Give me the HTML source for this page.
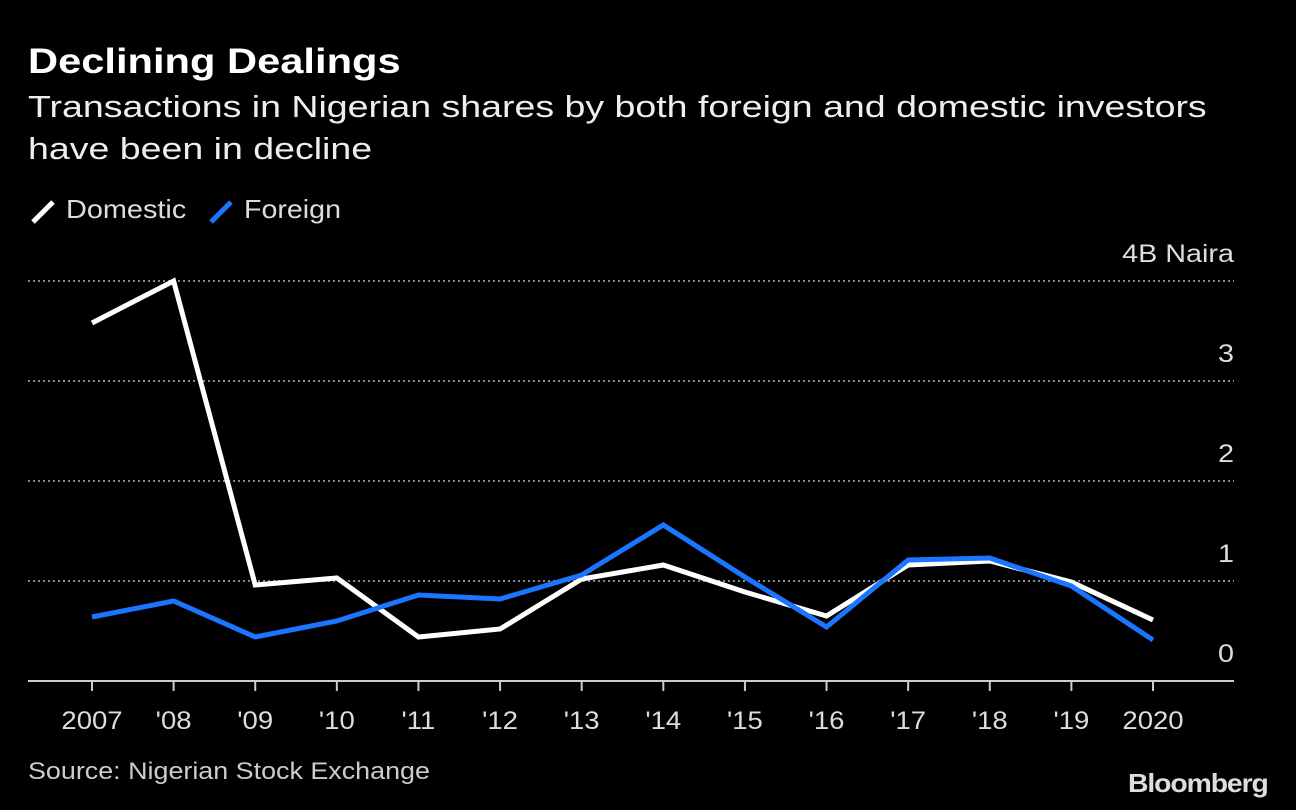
<!DOCTYPE html>
<html><head><meta charset="utf-8"><style>
html,body{margin:0;padding:0;background:#000;}
body{width:1296px;height:810px;position:relative;overflow:hidden;font-family:"Liberation Sans",sans-serif;color:#fff;}
.t{position:absolute;white-space:nowrap;transform-origin:0 0;}
</style></head><body>
<div class="t" style="left:28px;top:42px;font-size:35px;font-weight:bold;transform:scaleX(1.19);">Declining Dealings</div>
<div class="t" style="left:28px;top:86px;font-size:31px;line-height:42px;color:#eee;transform:scaleX(1.21);">Transactions in Nigerian shares by both foreign and domestic investors<br>have been in decline</div>
<div style="position:absolute;left:28px;top:192px;height:36px;font-size:26px;color:#ddd;">
 <span style="position:absolute;left:0;top:2px;"><svg width="30" height="30" style="vertical-align:middle"><line x1="5" y1="26" x2="25" y2="6" stroke="#fff" stroke-width="5"/></svg></span>
 <span class="t" style="left:38px;top:2px;transform:scaleX(1.11);">Domestic</span>
 <span style="position:absolute;left:178px;top:2px;"><svg width="30" height="30" style="vertical-align:middle"><line x1="5" y1="26" x2="25" y2="6" stroke="#1a75ff" stroke-width="5"/></svg></span>
 <span class="t" style="left:216px;top:2px;transform:scaleX(1.1);">Foreign</span>
</div>
<svg id="chart" width="1296" height="810" style="position:absolute;left:0;top:0;"></svg>
<div class="t" style="left:28px;top:758px;font-size:24px;color:#ccc;transform:scaleX(1.12);">Source: Nigerian Stock Exchange</div>
<div class="t" style="left:1128px;top:768px;font-size:26px;font-weight:bold;color:#ddd;letter-spacing:-1px;transform:scaleX(1.09);">Bloomberg</div>
<script>
const categories=["2007","'08","'09","'10","'11","'12","'13","'14","'15","'16","'17","'18","'19","2020"];
const domestic=[3.58,4.0,0.96,1.03,0.44,0.52,1.02,1.16,0.89,0.65,1.16,1.2,0.99,0.61];
const foreign=[0.64,0.8,0.44,0.6,0.86,0.82,1.06,1.56,1.04,0.54,1.21,1.23,0.95,0.41];
const yTicks=[0,1,2,3,4];
const yTickLabels=["0","1","2","3","4B Naira"];
const NS="http://www.w3.org/2000/svg";
const svg=document.getElementById('chart');
const x=i=>92+i*(1153-92)/(categories.length-1);
const y=v=>681-v*100;
function mk(t,a){const e=document.createElementNS(NS,t);for(const k in a)e.setAttribute(k,a[k]);svg.appendChild(e);return e;}
function stretch(t,f){const l=t.getComputedTextLength();t.setAttribute('textLength',l*f);t.setAttribute('lengthAdjust','spacingAndGlyphs');}
yTicks.forEach((v,i)=>{
 if(v>0){const g=mk('line',{x1:28,x2:1234,y1:y(v),y2:y(v),stroke:'#888','stroke-width':2,'stroke-dasharray':'2,3'});
 
 }
 const t=mk('text',{x:1234,y:y(v)-19,'text-anchor':'end',fill:'#ddd','font-size':25,'font-family':'Liberation Sans, sans-serif'});
 t.textContent=yTickLabels[i];
 
 
 stretch(t,1.15);
});
const ax=mk('line',{x1:28,x2:1234,y1:681,y2:681,stroke:'#ccc','stroke-width':2});


categories.forEach((c,i)=>{
 const tk=mk('line',{x1:x(i),x2:x(i),y1:681,y2:691,stroke:'#ccc','stroke-width':2});
 
 
 const t=mk('text',{x:x(i),y:729,'text-anchor':'middle',fill:'#ddd','font-size':25,'font-family':'Liberation Sans, sans-serif'});
 t.textContent=c;
 
 
 stretch(t,1.1);
});
function line(data,color,name){
 const p=mk('polyline',{points:data.map((v,i)=>x(i)+','+y(v)).join(' '),fill:'none',stroke:color,'stroke-width':5,'stroke-linejoin':'miter'});
 
 
}
line(domestic,'#ffffff','domestic-line');
line(foreign,'#1a75ff','foreign-line');
</script>
</body></html>
